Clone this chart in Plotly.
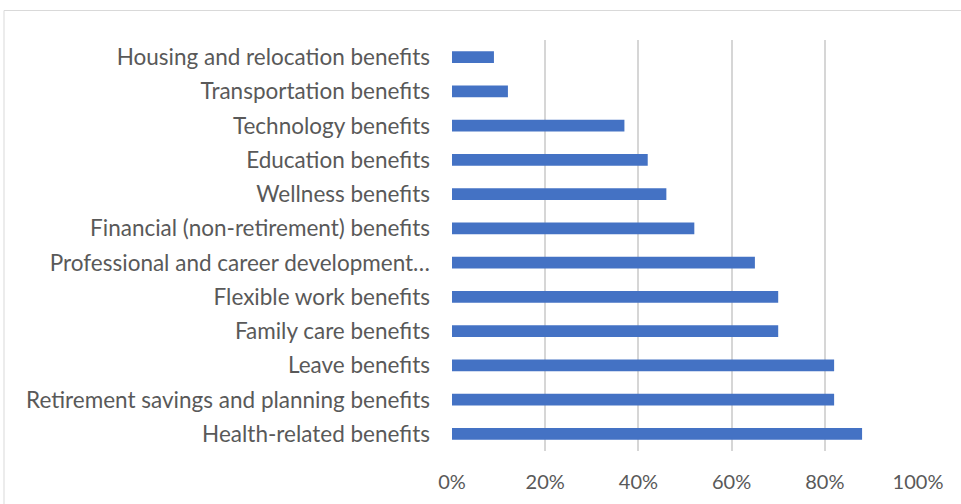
import plotly.graph_objects as go

# Share of employers offering each benefit type
categories = [
    "Health-related benefits",
    "Retirement savings and planning benefits",
    "Leave benefits",
    "Family care benefits",
    "Flexible work benefits",
    "Professional and career development…",
    "Financial (non-retirement) benefits",
    "Wellness benefits",
    "Education benefits",
    "Technology benefits",
    "Transportation benefits",
    "Housing and relocation benefits",
]
shares = [0.88, 0.82, 0.82, 0.70, 0.70, 0.65, 0.52, 0.46, 0.42, 0.37, 0.12, 0.09]

x_ticks = [0, 0.2, 0.4, 0.6, 0.8, 1.0]
x_tick_labels = ["0%", "20%", "40%", "60%", "80%", "100%"]

W, H = 961, 504
ML, MR, MT, MB = 452, 43, 40, 53
plot_w = W - ML - MR
plot_h = H - MT - MB

fig = go.Figure(
    go.Bar(
        x=shares,
        y=categories,
        orientation="h",
        marker=dict(color="#4472C4", line=dict(width=0)),
        hoverinfo="x+y",
    )
)

font_family = "Lato, 'Open Sans', sans-serif"
label_color = "#595959"

fig.update_layout(
    width=W,
    height=H,
    margin=dict(l=ML, r=MR, t=MT, b=MB, pad=0),
    paper_bgcolor="white",
    plot_bgcolor="white",
    bargap=0.65,
    showlegend=False,
    font=dict(family=font_family, color=label_color, size=20),
    xaxis=dict(
        range=[0, 1],
        tickvals=x_ticks,
        ticktext=x_tick_labels,
        showgrid=True,
        gridcolor="#d6d6d6",
        gridwidth=1.6,
        zeroline=False,
        showline=False,
        ticks="",
        ticklabelstandoff=17,
        tickfont=dict(size=20, color=label_color),
        fixedrange=True,
    ),
    yaxis=dict(
        categoryorder="array",
        categoryarray=categories,
        showgrid=False,
        zeroline=False,
        showline=False,
        ticks="",
        ticklabelstandoff=21,
        tickfont=dict(size=22.5, color=label_color),
        fixedrange=True,
    ),
)

# Light chart-area frame (left and top edges visible within the page)
fig.add_shape(
    type="rect",
    xref="paper",
    yref="paper",
    x0=(4 - ML) / plot_w,
    x1=(W + 20 - ML) / plot_w,
    y0=-(H + 20 - MT - plot_h) / plot_h,
    y1=1 + (MT - 10.5) / plot_h,
    line=dict(color="#d9d9d9", width=1),
    fillcolor="rgba(0,0,0,0)",
    layer="below",
)

fig.write_html("out.html")
